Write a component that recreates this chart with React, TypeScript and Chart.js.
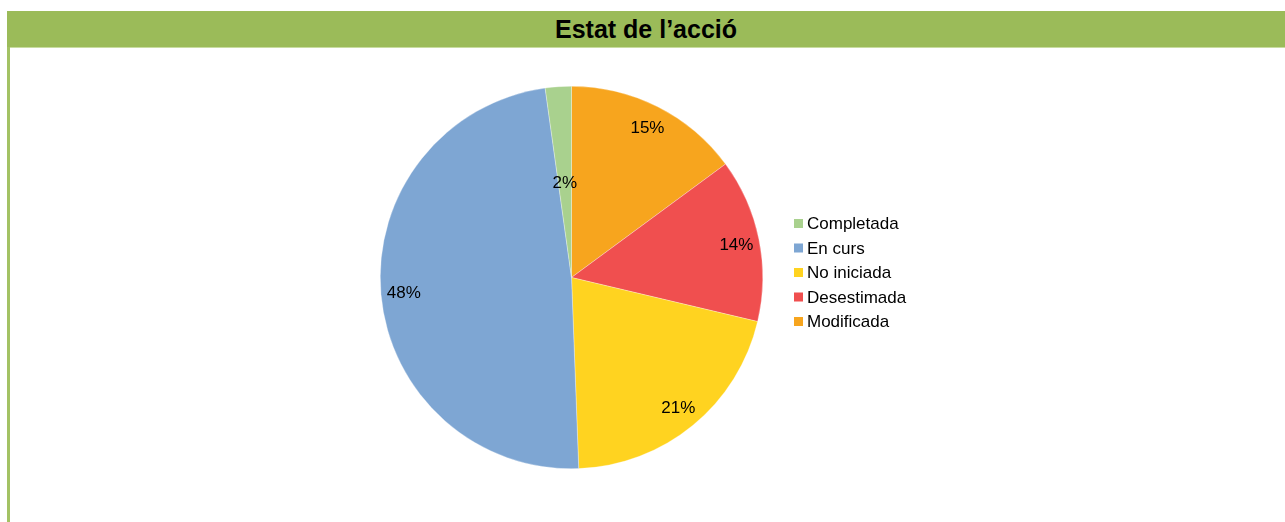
import React, { useEffect, useRef } from "react";
import { Chart, registerables } from "chart.js";

Chart.register(...registerables);

// Legend order (as shown in the reference legend)
const categories = ["Completada", "En curs", "No iniciada", "Desestimada", "Modificada"];
const values = [2.2, 48.4, 20.7, 13.8, 14.9];
const percentLabels = ["2%", "48%", "21%", "14%", "15%"];
const colors = ["#A9D18E", "#7EA6D3", "#FFD320", "#F04F4F", "#F7A51E"];
const titleText = "Estat de l’acció";

const FONT = '"Liberation Sans", Arial, sans-serif';

const labelPlugin = {
  id: "sliceLabels",
  afterDatasetsDraw(chart: any, _args: any, opts: any) {
    const ctx = chart.ctx;
    const meta = chart.getDatasetMeta(0);
    const texts: string[] = opts.texts || [];
    const radii: number[] = opts.radii || [];
    ctx.save();
    ctx.font = `17px ${FONT}`;
    ctx.fillStyle = "#000";
    ctx.textAlign = "center";
    ctx.textBaseline = "middle";
    meta.data.forEach((arc: any, i: number) => {
      const { x, y, startAngle, endAngle, outerRadius } = arc.getProps(
        ["x", "y", "startAngle", "endAngle", "outerRadius"],
        true
      );
      const mid = (startAngle + endAngle) / 2;
      const r = outerRadius * (radii[i] ?? 0.88);
      ctx.fillText(texts[i], x + Math.cos(mid) * r, y + Math.sin(mid) * r + 1);
    });
    ctx.restore();
  },
};

const legendPlugin = {
  id: "sideLegend",
  afterDraw(chart: any, _args: any, opts: any) {
    const ctx = chart.ctx;
    const names: string[] = opts.names || [];
    const cols: string[] = opts.colors || [];
    const x0 = opts.x;
    const y0 = opts.y;
    const step = opts.step;
    const box = opts.box;
    ctx.save();
    ctx.font = `17px ${FONT}`;
    ctx.textAlign = "left";
    ctx.textBaseline = "middle";
    names.forEach((name, i) => {
      const cy = y0 + i * step;
      ctx.fillStyle = cols[i];
      ctx.fillRect(x0, cy - box / 2, box, box);
      ctx.fillStyle = "#000";
      ctx.fillText(name, x0 + box + 4, cy + 1);
    });
    ctx.restore();
  },
};

export default function App() {
  const ref = useRef<HTMLCanvasElement | null>(null);

  useEffect(() => {
    if (!ref.current) return;
    const order = [4, 3, 2, 1, 0]; // clockwise from 12 o'clock
    const chart = new Chart(ref.current, {
      type: "pie",
      data: {
        labels: order.map((i) => categories[i]),
        datasets: [
          {
            data: order.map((i) => values[i]),
            backgroundColor: order.map((i) => colors[i]),
            borderColor: "rgba(255,255,255,0.6)",
            borderWidth: 0.5,
          },
        ],
      },
      options: {
        responsive: false,
        animation: false,
        devicePixelRatio: 1,
        layout: { padding: { left: 380, right: 522, top: 86, bottom: 53 } },
        plugins: {
          legend: { display: false },
          tooltip: { enabled: false },
          title: { display: false },
          sliceLabels: {
            texts: order.map((i) => percentLabels[i]),
            radii: [0.88, 0.88, 0.88, 0.88, 0.5],
          },
          sideLegend: {
            names: categories,
            colors: colors,
            x: 794,
            y: 223.5,
            step: 24.5,
            box: 9,
          },
        } as any,
      },
      plugins: [labelPlugin, legendPlugin],
    });
    return () => chart.destroy();
  }, []);

  return (
    <div
      style={{
        position: "fixed",
        left: 0,
        top: 0,
        width: 1285,
        height: 522,
        background: "#fff",
        overflow: "hidden",
      }}
    >
      <div
        style={{
          position: "absolute",
          left: 7,
          top: 11,
          width: 1278,
          height: 36,
          background: "#9BBB59",
          display: "flex",
          alignItems: "center",
          justifyContent: "center",
          fontFamily: FONT,
          fontWeight: "bold",
          fontSize: 25,
          color: "#000",
        }}
      >
        {titleText}
      </div>
      <div
        style={{
          position: "absolute",
          left: 7,
          top: 47,
          width: 1278,
          height: 1,
          background: "#C8DCA0",
        }}
      />
      <div
        style={{
          position: "absolute",
          left: 7,
          top: 47,
          width: 3,
          height: 475,
          background: "#A3C264",
        }}
      />
      <canvas
        ref={ref}
        width={1285}
        height={522}
        style={{ position: "absolute", left: 0, top: 0, width: 1285, height: 522 }}
      />
    </div>
  );
}
